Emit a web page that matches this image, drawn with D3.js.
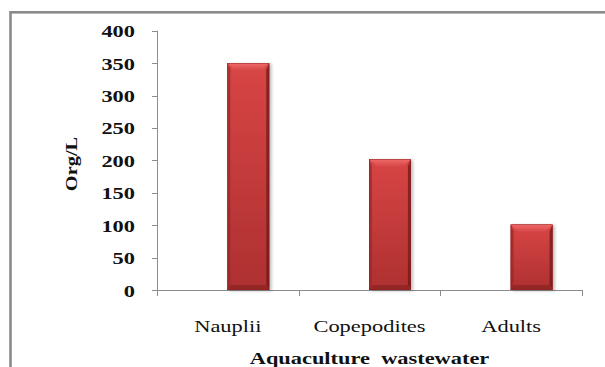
<!DOCTYPE html>
<html>
<head>
<meta charset="utf-8">
<script src="https://cdn.jsdelivr.net/npm/d3@7"></script>
<style>
  html, body { margin: 0; padding: 0; background: #fff; }
  svg { display: block; }
  svg text { font-family: "Liberation Serif", "Times New Roman", Tinos, "DejaVu Serif", serif; fill: #111; }
</style>
</head>
<body>
<svg id="chart" width="605" height="367"></svg>
<script>
// Zooplankton densities in aquaculture wastewater
const categories = ["Nauplii", "Copepodites", "Adults"];
const values = [350, 202, 101];
const yTicks = [0, 50, 100, 150, 200, 250, 300, 350, 400];
const xTitle = "Aquaculture  wastewater";
const yTitle = "Org/L";

const serif = "'Liberation Serif', 'Times New Roman', Tinos, 'DejaVu Serif', serif";
const svg = d3.select("#chart");
const stretch = 1.4; // wide glyph rendering of the text

const plotLeft = 157, plotRight = 582, plotTop = 30.7, plotBottom = 290;

const x = d3.scaleBand().domain(categories).range([plotLeft, plotRight]).padding(0);
const y = d3.scaleLinear().domain([0, 400]).range([plotBottom, plotTop]);

// outer frame
svg.append("rect")
  .attr("x", 10.5).attr("y", 12.3)
  .attr("width", 700).attr("height", 500)
  .attr("fill", "none").attr("stroke", "#8a8a8a").attr("stroke-width", 2.6);

const defs = svg.append("defs");
const body = defs.append("linearGradient").attr("id", "barBody")
  .attr("x1", 0).attr("y1", 0).attr("x2", 0).attr("y2", 1);
body.append("stop").attr("offset", "0%").attr("stop-color", "#d84545");
body.append("stop").attr("offset", "100%").attr("stop-color", "#ae3030");

const topBev = defs.append("linearGradient").attr("id", "barTop")
  .attr("x1", 0).attr("y1", 0).attr("x2", 0).attr("y2", 1);
topBev.append("stop").attr("offset", "0%").attr("stop-color", "#f06a6a");
topBev.append("stop").attr("offset", "100%").attr("stop-color", "#d84848");

const shadow = defs.append("filter").attr("id", "shadow")
  .attr("x", "-30%").attr("y", "-10%").attr("width", "160%").attr("height", "120%");
shadow.append("feDropShadow").attr("dx", 2).attr("dy", 1)
  .attr("stdDeviation", 1.5).attr("flood-color", "#000").attr("flood-opacity", 0.25);

// y axis
const yAxis = svg.append("g");
yAxis.append("line")
  .attr("x1", plotLeft + 0.5).attr("x2", plotLeft + 0.5).attr("y1", y(400)).attr("y2", y(0))
  .attr("stroke", "#8c8c8c").attr("stroke-width", 1);
yAxis.selectAll("line.tick").data(yTicks).join("line")
  .attr("class", "tick")
  .attr("x1", plotLeft - 5).attr("x2", plotLeft)
  .attr("y1", d => Math.round(y(d)) + 0.5).attr("y2", d => Math.round(y(d)) + 0.5)
  .attr("stroke", "#8c8c8c");
yAxis.selectAll("text").data(yTicks).join("text")
  .attr("transform", d => `translate(${135},${y(d) + 6.5}) scale(${stretch},1)`)
  .attr("text-anchor", "end")
  .attr("font-family", serif)
  .attr("font-size", 16).attr("font-weight", "bold")
  .text(d => d);

// x axis
const xAxis = svg.append("g");
xAxis.append("line")
  .attr("x1", plotLeft).attr("x2", plotRight).attr("y1", plotBottom + 0.5).attr("y2", plotBottom + 0.5)
  .attr("stroke", "#8c8c8c");
const bounds = categories.map(c => x(c)).concat([plotRight]);
xAxis.selectAll("line.tick").data(bounds).join("line")
  .attr("class", "tick")
  .attr("x1", d => Math.round(d) + 0.5).attr("x2", d => Math.round(d) + 0.5)
  .attr("y1", plotBottom).attr("y2", plotBottom + 6)
  .attr("stroke", "#8c8c8c");
xAxis.selectAll("text").data(categories).join("text")
  .attr("transform", d => `translate(${x(d) + x.bandwidth() / 2},${331.5}) scale(1.32,1)`)
  .attr("text-anchor", "middle")
  .attr("font-family", serif)
  .attr("font-size", 17)
  .text(d => d);

// bars with bevelled edges
const bw = x.bandwidth() * 0.296;
const bars = svg.append("g").selectAll("g").data(categories).join("g")
  .attr("filter", "url(#shadow)");
bars.each(function (c, i) {
  const g = d3.select(this);
  const x0 = x(c) + x.bandwidth() / 2 - 0.5;
  const y0 = y(values[i]);
  const y1 = y(0);
  const w = bw, tb = 7, sb = 3, bb = 5;
  g.append("rect").attr("x", x0).attr("y", y0).attr("width", w).attr("height", y1 - y0)
    .attr("fill", "url(#barBody)");
  // left side
  g.append("polygon")
    .attr("points", [[x0, y0], [x0 + sb, y0 + tb], [x0 + sb, y1 - bb], [x0, y1]].join(" "))
    .attr("fill", "#9c2a2a").attr("opacity", 0.75);
  // right side
  g.append("polygon")
    .attr("points", [[x0 + w, y0], [x0 + w - sb, y0 + tb], [x0 + w - sb, y1 - bb], [x0 + w, y1]].join(" "))
    .attr("fill", "#7a1c1c").attr("opacity", 0.85);
  // bottom
  g.append("polygon")
    .attr("points", [[x0, y1], [x0 + sb, y1 - bb], [x0 + w - sb, y1 - bb], [x0 + w, y1]].join(" "))
    .attr("fill", "#8e2626").attr("opacity", 0.8);
  // top
  g.append("polygon")
    .attr("points", [[x0, y0], [x0 + w, y0], [x0 + w - sb - 4, y0 + tb], [x0 + sb + 4, y0 + tb]].join(" "))
    .attr("fill", "url(#barTop)");
  g.append("rect").attr("x", x0 + 0.25).attr("y", y0 + 0.25).attr("width", w - 0.5).attr("height", y1 - y0 - 0.5)
    .attr("fill", "none").attr("stroke", "#8a2222").attr("stroke-width", 0.5);
});

// axis titles
svg.append("text")
  .attr("transform", `translate(${(plotLeft + plotRight) / 2},${364}) scale(${stretch},1)`)
  .attr("text-anchor", "middle")
  .attr("font-family", serif)
  .attr("font-size", 16).attr("font-weight", "bold")
  .attr("xml:space", "preserve")
  .style("white-space", "pre")
  .text(xTitle);

svg.append("text")
  .attr("transform", `translate(${77},${164}) rotate(-90) scale(1.2,1)`)
  .attr("text-anchor", "middle")
  .attr("font-family", serif)
  .attr("font-size", 17).attr("font-weight", "bold")
  .text(yTitle);
</script>
</body>
</html>
